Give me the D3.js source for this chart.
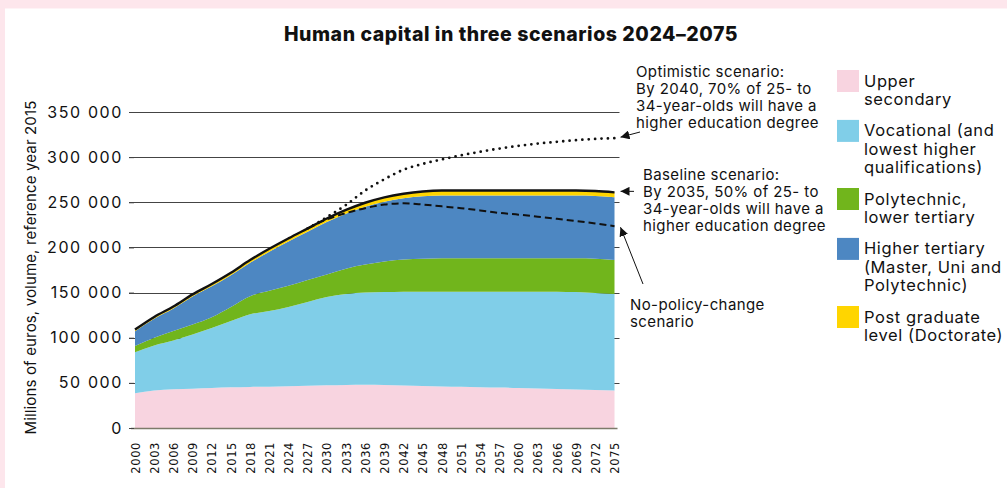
<!DOCTYPE html>
<html><head><meta charset="utf-8">
<script src="https://cdn.jsdelivr.net/npm/d3@7"></script>
<style>
body{margin:0;background:#fde6ec;}
svg{display:block;}
text{font-family:Inter,"Open Sans",sans-serif;fill:#111;}
</style>
</head><body>
<svg id="chart" width="1007" height="488"></svg>
<script>
// ---- data (millions of euros) ----
const years = [2000,2003,2006,2009,2012,2015,2018,2021,2024,2027,2030,2033,2036,2039,2042,2045,2048,2051,2054,2057,2060,2063,2066,2069,2072,2075];
const upperSecondary = [38500,41500,43000,43500,44300,45000,45500,45800,46300,46800,47300,47700,47800,47500,47000,46500,46000,45600,45200,44800,44300,43800,43200,42700,42200,41500];
const vocational     = [45500,50000,54000,60100,66400,73500,80500,83700,87700,92700,97700,100800,102200,103000,104000,104500,105000,105400,105800,106200,106700,107200,107800,107800,107300,107000];
const polytechnic    = [6800,8500,10500,10900,11900,15500,20000,22500,23500,24500,25000,28000,31000,34000,35500,36500,37000,37000,37000,37000,37000,37000,37000,37500,38000,37500];
const higherTertiary = [16400,21000,24800,31100,34300,35200,37000,43300,49100,53400,58100,60800,64000,66200,67900,69200,69500,69500,69500,69500,69500,69500,69500,69500,69500,69700];
const doctorate      = [1800,2000,2200,2400,2600,2800,3000,3200,3400,3600,3900,4200,4500,4800,5100,5300,5500,5500,5500,5500,5500,5500,5500,5500,5500,5300];

const scenarioYears   = [2027,2030,2033,2036,2039,2042,2045,2048,2051,2054,2057,2060,2063,2066,2069,2072,2075];
const optimistic      = [221000,233500,247000,263000,275500,286000,292500,297500,302000,306000,309500,312500,315000,317000,318800,320200,321000];
const noPolicyChange  = [221000,231000,238000,243500,247500,248800,247500,245500,243500,241000,238200,236300,234000,231700,229200,226500,223500];

const seriesNames = ["Upper secondary","Vocational (and lowest higher qualifications)","Polytechnic, lower tertiary","Higher tertiary (Master, Uni and Polytechnic)","Post graduate level (Doctorate)"];
const legendLines = [["Upper","secondary"],["Vocational (and","lowest higher","qualifications)"],["Polytechnic,","lower tertiary"],["Higher tertiary","(Master, Uni and","Polytechnic)"],["Post graduate","level (Doctorate)"]];
const colors = ["#f8d4e0","#80cee8","#71b51c","#4d87c2","#ffd500"];
const yTicks = [0,50000,100000,150000,200000,250000,300000,350000];
const xTicks = years;

const title = "Human capital in three scenarios 2024\u20132075";
const yTitle = "Millions of euros, volume, reference year 2015";
const noteOptimistic = ["Optimistic scenario:","By 2040, 70% of 25- to","34-year-olds will have a","higher education degree"];
const noteBaseline = ["Baseline scenario:","By 2035, 50% of 25- to","34-year-olds will have a","higher education degree"];
const noteNoPolicy = ["No-policy-change","scenario"];

// ---- build ----
const svg = d3.select("#chart");
svg.append("rect").attr("x",5).attr("y",8.5).attr("width",1002).attr("height",480).attr("fill","#fff");

const x = d3.scaleLinear().domain([2000,2075]).range([135,614.5]);
const y = d3.scaleLinear().domain([0,350000]).range([428,112]);

const table = years.map((yr,i)=>({year:yr, s0:upperSecondary[i], s1:vocational[i], s2:polytechnic[i], s3:higherTertiary[i], s4:doctorate[i]}));
const keys = ["s0","s1","s2","s3","s4"];
const stack = d3.stack().keys(keys)(table);

// gridlines
const grid = svg.append("g");
grid.selectAll("line").data(yTicks.filter(d=>d>0)).join("line")
  .attr("x1",x(2000)-6).attr("x2",x(2075)+5)
  .attr("y1",d=>Math.round(y(d))+0.5).attr("y2",d=>Math.round(y(d))+0.5)
  .attr("stroke","#444").attr("stroke-width",1);

const curve = d3.curveMonotoneX;
const area = d3.area().curve(curve).x(d=>x(d.data.year)).y0(d=>y(d[0])).y1(d=>y(d[1]));
svg.append("g").selectAll("path").data(stack).join("path")
  .attr("d",area).attr("fill",(d,i)=>colors[i]);

// x-axis baseline
svg.append("line").attr("x1",x(2000)-4).attr("x2",x(2075)+3)
  .attr("y1",y(0)+0.5).attr("y2",y(0)+0.5).attr("stroke","#7d7a6a").attr("stroke-width",1.5);

// scenario lines
const topLine = d3.line().curve(curve).x(d=>x(d.data.year)).y(d=>y(d[1]));
svg.append("path").datum(stack[4]).attr("d",topLine)
  .attr("fill","none").attr("stroke","#111").attr("stroke-width",2.4);

const scen = d3.line().curve(curve).x((d,i)=>x(scenarioYears[i])).y(d=>y(d));
svg.append("path").datum(noPolicyChange).attr("d",scen)
  .attr("fill","none").attr("stroke","#111").attr("stroke-width",2).attr("stroke-dasharray","7,4");
svg.append("path").datum(optimistic).attr("d",scen)
  .attr("fill","none").attr("stroke","#111").attr("stroke-width",2.8)
  .attr("stroke-linecap","round").attr("stroke-dasharray","0,6.4");

// y axis
const yAxis = d3.axisLeft(y).tickValues(yTicks).tickSize(5).tickPadding(6)
  .tickFormat(d=>d3.format(",")(d).replace(/,/g," "));
const gy = svg.append("g").attr("transform",`translate(${x(2000)-1},0)`).call(yAxis);
gy.select(".domain").remove();
gy.selectAll(".tick line").attr("stroke","#444");
gy.selectAll(".tick text").attr("font-size","16px").attr("letter-spacing","1.6px")
  .style("font-family","Inter,sans-serif").attr("fill","#111");

// x axis
const xAxis = d3.axisBottom(x).tickValues(xTicks).tickSize(0).tickFormat(d3.format("d"));
const gx = svg.append("g").attr("transform",`translate(0,${y(0)})`).call(xAxis);
gx.select(".domain").remove();
gx.selectAll(".tick text").attr("transform","translate(0,14) rotate(-90)")
  .attr("text-anchor","end").attr("x",0).attr("y",0).attr("dy","0.36em")
  .attr("font-size","11.5px").attr("letter-spacing","0.6px")
  .style("font-family","'DejaVu Sans',sans-serif").attr("fill","#111");

// title
svg.append("text").attr("x",511).attr("y",41).attr("text-anchor","middle")
  .attr("font-size","19.5px").attr("font-weight",800).attr("letter-spacing","0.55px").text(title);

// y title
svg.append("text").attr("transform","translate(36,267.5) rotate(-90)").attr("text-anchor","middle")
  .attr("font-size","15px").attr("letter-spacing","0.15px").text(yTitle);

// legend
const lg = svg.append("g");
let cy = 70;
legendLines.forEach((lines,i)=>{
  lg.append("rect").attr("x",837).attr("y",cy).attr("width",22).attr("height",22).attr("fill",colors[i]);
  const t = lg.append("text").attr("font-size","16.5px").attr("letter-spacing","0.6px");
  lines.forEach((ln,j)=>t.append("tspan").attr("x",864).attr("y",cy+16.5+j*18.2).text(ln));
  cy += lines.length*18.2 + 13.5;
});

// annotations
function note(lines,x0,y0,lh){
  const t = svg.append("text").attr("font-size","15px").attr("letter-spacing","0.4px");
  lines.forEach((ln,j)=>t.append("tspan").attr("x",x0).attr("y",y0+j*lh).text(ln));
}
note(noteOptimistic,636,77,17);
note(noteBaseline,643,179.5,17.3);
note(noteNoPolicy,630,310,17);

svg.append("defs").append("marker").attr("id","ah").attr("viewBox","0 0 10 10")
  .attr("refX",10).attr("refY",5).attr("markerWidth",9).attr("markerHeight",9)
  .attr("markerUnits","userSpaceOnUse").attr("orient","auto")
  .append("path").attr("d","M0,0 L10,5 L0,10 Z").attr("fill","#111");
function arrow(x1,y1,x2,y2){
  svg.append("line").attr("x1",x1).attr("y1",y1).attr("x2",x2).attr("y2",y2)
    .attr("stroke","#111").attr("stroke-width",1).attr("marker-end","url(#ah)");
}
const last = years.length-1;
const totalLast = stack[4][last][1];
arrow(640,132,x(2075)+6,y(optimistic[optimistic.length-1])-1);
arrow(634,y(totalLast)-1,x(2075)+6,y(totalLast)-1);
arrow(643,284,x(2075)+6,y(noPolicyChange[noPolicyChange.length-1])+1);
</script>
</body></html>
